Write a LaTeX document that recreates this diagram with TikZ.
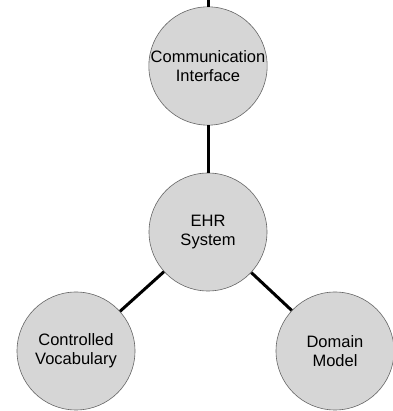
\documentclass[tikz,border=0pt]{standalone}
\usepackage{fontspec}
\setmainfont{Liberation Sans}
\begin{document}
\begin{tikzpicture}[x=1pt,y=1pt,
  bubble/.style={circle,draw=black!60,line width=0.6pt,fill=black!16,minimum size=118pt,inner sep=0pt,align=center,font=\fontsize{16.5}{19}\selectfont},
  link/.style={line width=3pt,black}]
\useasboundingbox (0,0) rectangle (392,411);
\node[bubble] (ci) at (208,345) {Communication\\Interface};
\node[bubble] (ehr) at (208,179) {EHR\\System};
\node[bubble] (cv) at (76,60) {Controlled\\Vocabulary};
\node[bubble] (dm) at (335,60) {Domain\\Model};
\coordinate (topend) at (208,413);
\draw[link] (ci) -- (topend);
\draw[link] (ci) -- (ehr);
\draw[link] (ehr) -- (cv);
\draw[link] (ehr) -- (dm);
\end{tikzpicture}
\end{document}
